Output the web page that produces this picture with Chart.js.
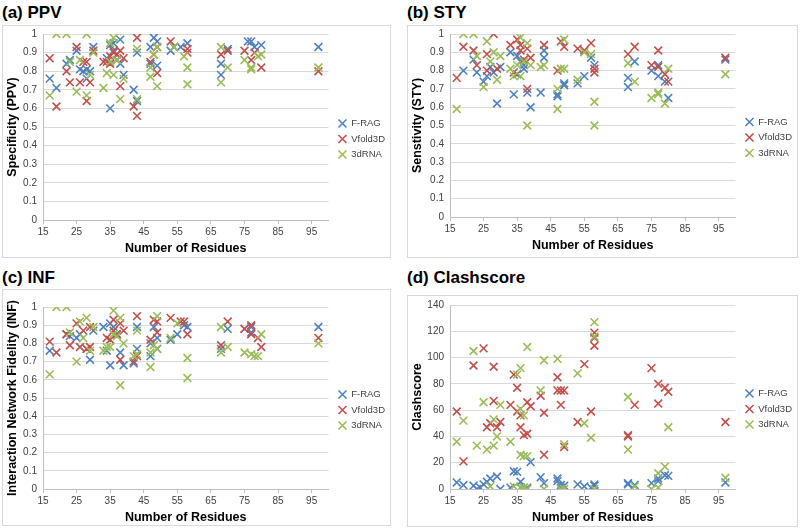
<!DOCTYPE html>
<html>
<head>
<meta charset="utf-8">
<script src="https://cdn.jsdelivr.net/npm/chart.js@4.4.1/dist/chart.umd.min.js"></script>
<style>
  body { margin: 0; width: 800px; height: 529px; background: #fff; position: relative; overflow: hidden;
         font-family: "Liberation Sans", Arial, sans-serif; }
  .titulo { position: absolute; font-weight: bold; font-size: 17px; color: #000; white-space: nowrap; }
  .caja { position: absolute; border: 1px solid #d9d9d9; box-sizing: border-box; overflow: hidden; }
  .caja canvas { position: absolute; left: 0; }
</style>
</head>
<body>
<div class="titulo" style="left:2px;top:3px">(a) PPV</div>
<div class="titulo" style="left:407px;top:3px">(b) STY</div>
<div class="titulo" style="left:2px;top:268px">(c) INF</div>
<div class="titulo" style="left:407px;top:268px">(d) Clashscore</div>

<div class="caja" style="left:2px;top:25px;width:389px;height:233px"><canvas id="grafica-a"></canvas></div>
<div class="caja" style="left:407px;top:25px;width:391px;height:233px"><canvas id="grafica-b"></canvas></div>
<div class="caja" style="left:2px;top:289px;width:389px;height:237px"><canvas id="grafica-c"></canvas></div>
<div class="caja" style="left:407px;top:295px;width:391px;height:232px"><canvas id="grafica-d"></canvas></div>

<script>
// etiquetas del eje x y nombres de las series
const ticksResiduos = [15, 25, 35, 45, 55, 65, 75, 85, 95];
const nombresSeries = ["F-RAG", "Vfold3D", "3dRNA"];

// (a) PPV  [residuos, valor]
const ppvFrag = [[17,0.76],[19,0.71],[22,0.84],[23,0.86],[25,0.91],[26,0.81],[27,0.8],[28,0.81],[28,0.76],[29,0.8],[30,0.93],[34,0.87],[35,0.6],[35,0.94],[36,0.95],[36,0.9],[37,0.86],[38,0.97],[38,0.84],[39,0.78],[42,0.7],[43,0.9],[43,0.64],[47,0.84],[47,0.93],[48,0.98],[49,0.96],[49,0.83],[53,0.91],[54,0.93],[56,0.93],[58,0.95],[68,0.84],[68,0.78],[70,0.92],[76,0.96],[77,0.96],[78,0.93],[80,0.94],[97,0.93]];
const ppvVfold = [[17,0.87],[19,0.61],[22,0.8],[23,0.74],[25,0.93],[26,0.74],[27,0.85],[28,0.85],[28,0.64],[29,0.74],[30,0.91],[33,0.85],[34,0.85],[35,0.88],[35,0.84],[36,0.91],[37,0.89],[38,0.91],[38,0.72],[39,0.87],[42,0.61],[43,0.98],[43,0.56],[47,0.85],[48,0.89],[49,0.79],[49,0.93],[53,0.96],[58,0.92],[58,0.9],[68,0.89],[70,0.91],[75,0.91],[77,0.86],[78,0.9],[80,0.82],[97,0.8]];
const ppv3d = [[17,0.67],[19,1],[22,1],[23,0.85],[25,0.69],[26,0.86],[28,1],[28,0.67],[29,0.78],[30,0.9],[33,0.71],[34,0.79],[35,0.95],[36,0.98],[35,0.85],[36,0.78],[37,0.86],[38,0.65],[39,0.76],[43,0.92],[43,0.65],[47,0.77],[47,0.82],[48,0.89],[49,0.93],[49,0.72],[54,0.93],[57,0.88],[58,0.82],[58,0.73],[68,0.93],[68,0.74],[70,0.82],[75,0.86],[77,0.82],[77,0.81],[79,0.88],[80,0.89],[97,0.82]];

// (b) STY
const styFrag = [[19,0.8],[22,0.86],[23,0.79],[25,0.74],[26,0.77],[27,0.82],[28,0.79],[29,0.62],[30,0.82],[33,0.9],[34,0.67],[35,0.78],[35,0.88],[36,0.85],[37,0.83],[37,0.81],[38,0.68],[39,0.6],[42,0.68],[43,0.91],[43,0.87],[47,0.67],[47,0.66],[49,0.73],[49,0.72],[53,0.73],[55,0.77],[57,0.87],[58,0.83],[68,0.71],[68,0.76],[70,0.85],[75,0.8],[77,0.77],[77,0.83],[79,0.74],[80,0.65],[97,0.86]];
const styVfold = [[17,0.76],[19,0.93],[22,0.91],[23,0.83],[26,0.8],[26,0.89],[28,1],[29,0.81],[33,0.94],[34,0.79],[35,0.97],[36,0.94],[36,0.91],[37,0.86],[38,0.92],[38,0.7],[39,0.87],[43,0.94],[47,0.8],[48,0.96],[49,0.93],[53,0.92],[55,0.91],[57,0.95],[58,0.81],[58,0.79],[68,0.89],[70,0.93],[75,0.83],[77,0.91],[77,0.82],[79,0.78],[80,0.74],[97,0.87]];
const sty3d = [[17,0.59],[19,1],[22,1],[23,0.88],[26,0.96],[25,0.71],[27,0.85],[28,0.9],[29,0.75],[30,0.88],[33,0.81],[34,0.77],[35,0.83],[36,0.98],[36,0.77],[37,0.85],[38,0.95],[38,0.5],[39,0.83],[42,0.82],[43,0.83],[47,0.7],[47,0.59],[48,0.81],[49,0.81],[49,0.97],[53,0.75],[55,0.9],[57,0.89],[58,0.63],[58,0.5],[68,0.84],[70,0.74],[75,0.65],[77,0.68],[77,0.67],[79,0.62],[80,0.81],[97,0.78]];

// (c) INF
const infFrag = [[17,0.76],[22,0.85],[23,0.84],[25,0.83],[26,0.85],[28,0.77],[29,0.71],[30,0.87],[33,0.89],[34,0.76],[35,0.68],[35,0.91],[36,0.89],[37,0.85],[38,0.75],[39,0.68],[42,0.69],[43,0.89],[43,0.77],[47,0.8],[47,0.73],[48,0.89],[49,0.83],[49,0.77],[53,0.82],[55,0.85],[57,0.9],[58,0.89],[68,0.77],[70,0.88],[75,0.88],[77,0.89],[77,0.86],[97,0.89]];
const infVfold = [[17,0.81],[19,0.75],[22,0.85],[23,0.79],[25,0.91],[26,0.78],[27,0.87],[28,0.77],[29,0.78],[29,0.89],[34,0.83],[35,0.82],[36,0.93],[36,0.87],[37,0.85],[38,0.91],[38,0.71],[39,0.87],[42,0.7],[43,0.95],[43,0.73],[47,0.82],[48,0.93],[49,0.92],[49,0.86],[53,0.94],[56,0.92],[57,0.92],[58,0.85],[68,0.79],[70,0.92],[75,0.88],[77,0.9],[77,0.85],[79,0.83],[80,0.78],[97,0.83]];
const inf3d = [[17,0.63],[19,1],[22,1],[23,0.86],[25,0.7],[26,0.92],[27,0.83],[28,0.94],[29,0.76],[30,0.89],[33,0.76],[34,0.78],[35,0.78],[36,0.98],[36,0.85],[37,0.84],[38,0.94],[38,0.57],[39,0.8],[42,0.73],[43,0.87],[43,0.74],[47,0.67],[47,0.75],[48,0.79],[49,0.95],[49,0.77],[53,0.83],[55,0.91],[58,0.72],[58,0.61],[68,0.89],[68,0.75],[70,0.78],[75,0.75],[77,0.74],[78,0.73],[79,0.73],[80,0.85],[97,0.8]];

// (d) Clashscore
const clashFrag = [[17,5],[19,3],[22,2.5],[23,0],[24,1],[25,3.5],[26,5.5],[27,8],[29,9.5],[30,0],[33,1],[34,13.5],[35,13],[36,5.5],[36,1],[37,1],[38,1],[39,20.5],[42,9],[43,4.5],[47,8],[47,6],[48,3],[48,1],[49,2.5],[53,3.5],[55,2],[57,1],[58,2.5],[58,3.5],[68,4.5],[68,3.5],[70,3],[75,4.5],[77,6],[77,8],[79,10.5],[80,10],[97,5]];
const clashVfold = [[17,59],[19,21],[22,94],[25,107],[26,47],[27,50],[28,93],[28,67],[29,47],[30,51],[33,64],[34,87],[35,77],[35,59],[36,47],[36,56],[37,41],[38,42],[38,66],[39,63],[42,71],[43,58],[43,26],[47,85],[47,75],[48,64],[48,75],[49,75],[49,32],[53,51],[55,95],[57,59],[58,119],[58,115],[58,109],[68,41],[68,40],[70,64],[75,92],[77,80],[77,65],[79,77],[80,74],[97,51]];
const clash3d = [[17,36],[19,52],[22,105],[23,33],[25,66],[26,30],[27,2],[28,53],[28,33],[29,40],[30,64],[33,36],[34,2],[35,87],[36,92],[36,61],[36,26],[36,1],[37,56],[37,25],[37,1],[38,108],[38,25],[38,0],[42,75],[43,98],[43,0],[47,99],[48,0],[49,34],[49,0],[53,88],[55,50],[57,39],[58,127],[58,116],[58,0],[68,70],[68,30],[70,2],[75,0],[77,12],[77,1],[79,17],[80,47],[97,8.5]];

// colores tipo Excel
const colores = ["#4f81bd", "#c0504d", "#9bbb59"];

// ajusta el ancho de la leyenda y la corre un poco a la derecha
const margenLeyenda = {
    id: "margenLeyenda",
    afterInit(chart) {
        const leyenda = chart.legend;
        const fitOriginal = leyenda.fit.bind(leyenda);
        const drawOriginal = leyenda.draw.bind(leyenda);
        leyenda.fit = function () {
            fitOriginal();
            this.width -= 1;
        };
        leyenda.draw = function () {
            this.ctx.save();
            this.ctx.translate(4, 0);
            drawOriginal();
            this.ctx.restore();
        };
    }
};

// convierte pares [x, y] en puntos para Chart.js
function aPuntos(pares) {
    return pares.map(p => ({ x: p[0], y: p[1] }));
}

// crea una grafica de dispersion
function crearGrafica(id, series, tituloY, maxY, pasoY, anchoY, desplazamiento, padBottom) {
    const canvas = document.getElementById(id);
    const caja = canvas.parentElement;
    // el canvas se corre un poco para alinear el area del grafico
    canvas.style.top = desplazamiento + "px";
    canvas.width = caja.clientWidth;
    canvas.height = caja.clientHeight - desplazamiento;

    const datasets = series.map((s, i) => ({
        label: nombresSeries[i],
        data: aPuntos(s),
        pointStyle: "crossRot",
        pointRadius: 5.5,
        pointHoverRadius: 5.5,
        borderWidth: 1.6,
        borderColor: colores[i],
        backgroundColor: colores[i],
        order: 3 - i
    }));

    new Chart(canvas, {
        type: "scatter",
        data: { datasets: datasets },
        plugins: [margenLeyenda],
        options: {
            responsive: false,
            animation: false,
            layout: { padding: { top: 0, right: 0, bottom: padBottom, left: 2 } },
            plugins: {
                legend: {
                    position: "right",
                    labels: {
                        usePointStyle: true,
                        boxWidth: 8,
                        boxHeight: 8,
                        padding: 6,
                        color: "#404040",
                        font: { family: "Liberation Sans", size: 9.5 },
                        sort: (a, b) => a.datasetIndex - b.datasetIndex
                    }
                },
                tooltip: { enabled: false }
            },
            scales: {
                x: {
                    type: "linear",
                    min: 15,
                    max: 100,
                    afterBuildTicks: (escala) => {
                        escala.ticks = ticksResiduos.map(v => ({ value: v }));
                    },
                    grid: { drawOnChartArea: false, drawTicks: true, tickLength: 4, color: "#bfbfbf" },
                    border: { display: true, color: "#bfbfbf" },
                    ticks: { color: "#404040", font: { family: "Liberation Sans", size: 10, lineHeight: 1 }, padding: 3, maxRotation: 0 },
                    title: { display: true, text: "Number of Residues", color: "#000",
                             font: { family: "Liberation Sans", size: 12.5, weight: "bold" }, padding: { top: 1, bottom: 0 } }
                },
                y: {
                    min: 0,
                    max: maxY,
                    afterFit: (escala) => { escala.width = anchoY; },
                    ticks: {
                        stepSize: pasoY,
                        color: "#404040",
                        font: { family: "Liberation Sans", size: 10 },
                        padding: 6,
                        callback: (v) => String(Math.round(v * 100) / 100)
                    },
                    grid: { color: "#d9d9d9", drawTicks: false },
                    border: { display: true, color: "#bfbfbf" },
                    title: { display: true, text: tituloY, color: "#000",
                             font: { family: "Liberation Sans", size: 12.5, weight: "bold" }, padding: { top: 0, bottom: 2 } }
                }
            }
        }
    });
}

document.addEventListener("DOMContentLoaded", function () {
    crearGrafica("grafica-a", [ppvFrag, ppvVfold, ppv3d], "Specificity (PPV)", 1, 0.1, 38, -4, 1);
    crearGrafica("grafica-b", [styFrag, styVfold, sty3d], "Senstivity (STY)", 1, 0.1, 40, -4, 4);
    crearGrafica("grafica-c", [infFrag, infVfold, inf3d], "Interaction Network Fidelity (INF)", 1, 0.1, 38, 5, 0);
    crearGrafica("grafica-d", [clashFrag, clashVfold, clash3d], "Clashscore", 140, 20, 40, -3, 1);
});
</script>
</body>
</html>
